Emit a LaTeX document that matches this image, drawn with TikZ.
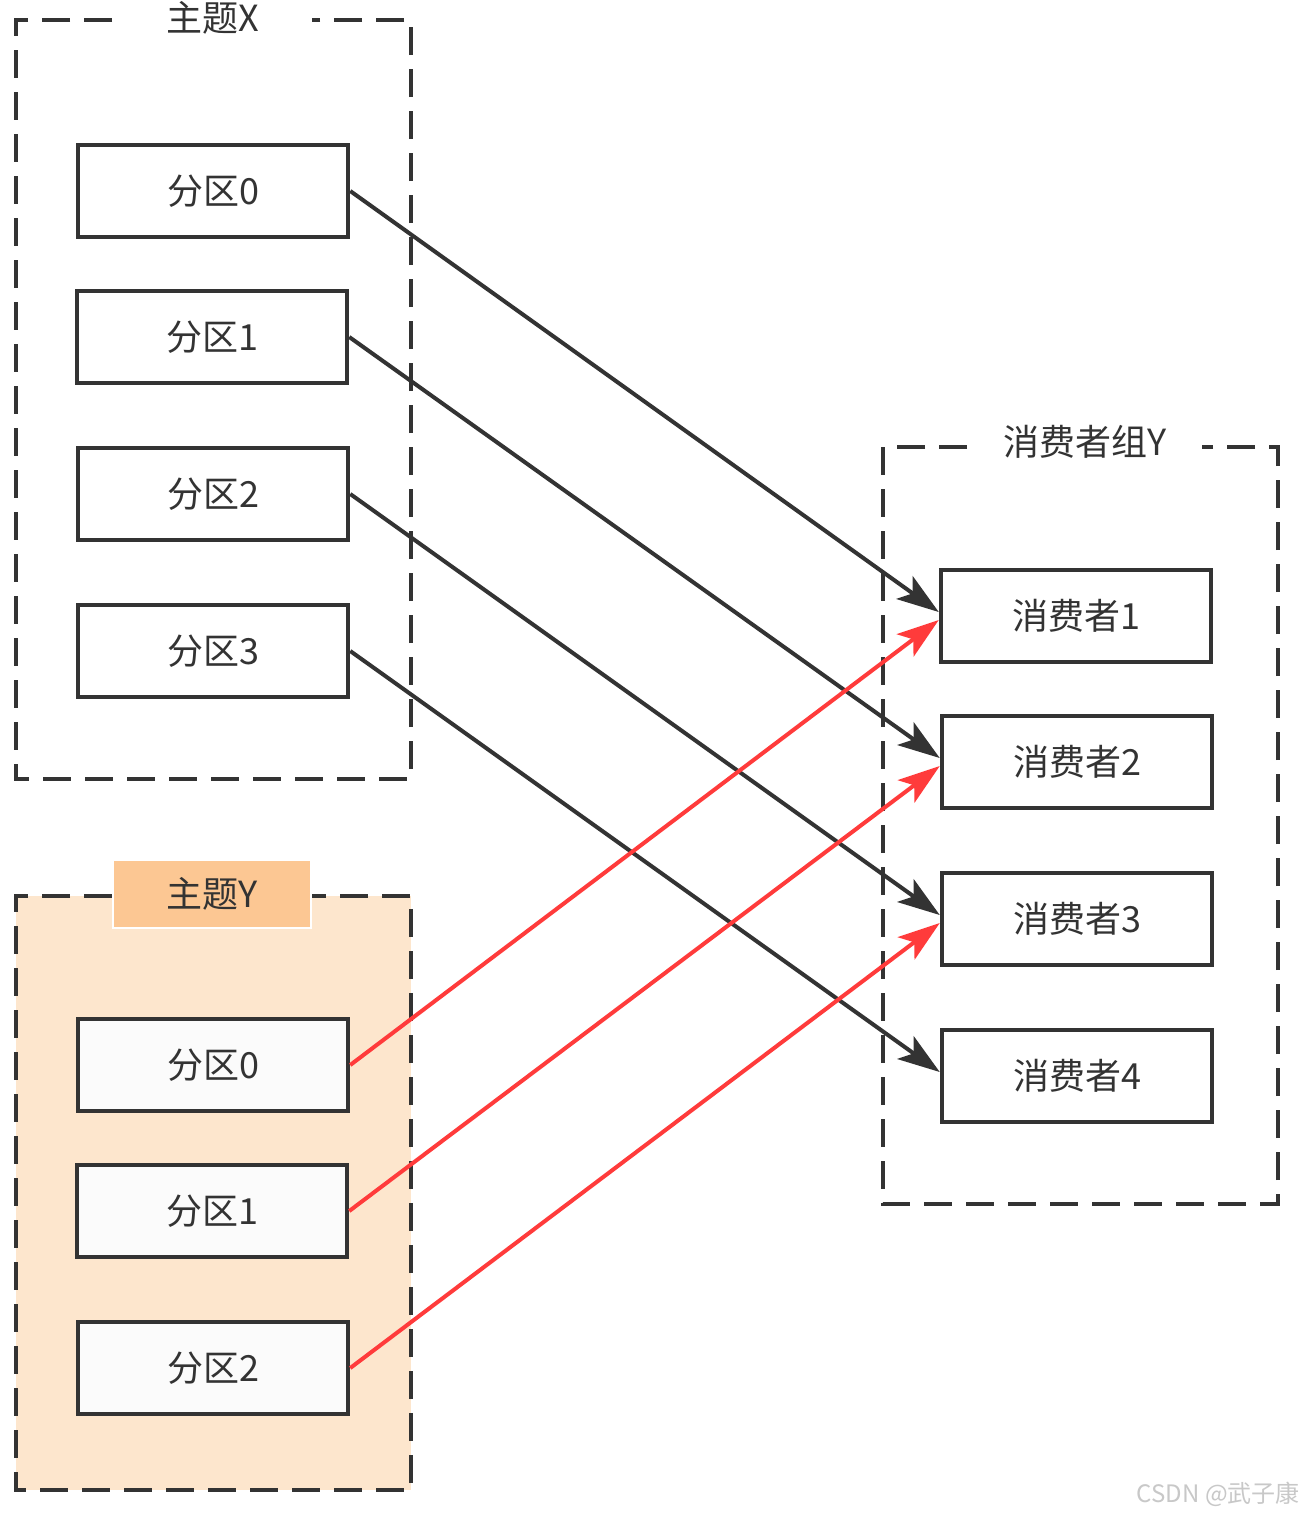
\documentclass[tikz,border=0pt]{standalone}
\usepackage{fontspec}
\setmainfont{Noto Sans CJK SC}
\usetikzlibrary{arrows.meta}
\definecolor{ink}{HTML}{333333}
\definecolor{redline}{HTML}{FF3B3B}
\definecolor{peach}{HTML}{FDE6CD}
\definecolor{peachdark}{HTML}{FCC793}
\definecolor{boxy}{HTML}{FBFBFB}
\definecolor{wm}{HTML}{C8C8C8}
\begin{document}
\begin{tikzpicture}[x=1pt,y=-1pt,
  box/.style={draw=ink, line width=4.5pt, fill=white, minimum width=270pt, minimum height=92pt, inner sep=0pt, text=ink, font=\fontsize{36}{42}\selectfont},
  grp/.style={draw=ink, line width=4pt, dash pattern=on 28pt off 14pt},
  title/.style={text=ink, inner sep=0pt, font=\fontsize{36}{42}\selectfont},
  blk/.style={draw=ink, line width=4pt, -{Stealth[length=42pt,width=28pt,inset=10pt]}},
  rd/.style={draw=redline, line width=4pt, -{Stealth[length=42pt,width=28pt,inset=10pt]}}
]
\useasboundingbox (0,0) rectangle (1304,1516);
\fill[white] (0,0) rectangle (1304,1516);

% Topic X
\draw[grp] (112,20) -- (16,20) -- (16,779) -- (411,779) -- (411,20) -- (312,20);
\node[title] (tx) at (213,18) {主题X};
\node[box] (x0) at (213,191) {分区0};
\node[box] (x1) at (212,337) {分区1};
\node[box] (x2) at (213,494) {分区2};
\node[box] (x3) at (213,651) {分区3};

% Topic Y
\fill[peach] (16,896) rectangle (411,1490);
\draw[grp] (112,896) -- (16,896) -- (16,1490) -- (411,1490) -- (411,896) -- (312,896);
\node[title, fill=peachdark, draw=white, line width=2pt, minimum width=198pt, minimum height=68pt] (ty) at (212,894) {主题Y};
\node[box, fill=boxy] (y0) at (213,1065) {分区0};
\node[box, fill=boxy] (y1) at (212,1211) {分区1};
\node[box, fill=boxy] (y2) at (213,1368) {分区2};

% Consumer group
\draw[grp] (967,447) -- (883,447) -- (883,1204) -- (1278,1204) -- (1278,447) -- (1202,447);
\node[title] (cg) at (1085,442) {消费者组Y};
\node[box] (c1) at (1076,616) {消费者1};
\node[box] (c2) at (1077,762) {消费者2};
\node[box] (c3) at (1077,919) {消费者3};
\node[box] (c4) at (1077,1076) {消费者4};

% Arrows
\draw[blk] (x0.east) -- ([yshift=4pt]c1.west);
\draw[blk] (x1.east) -- ([yshift=4pt]c2.west);
\draw[blk] (x2.east) -- ([yshift=4pt]c3.west);
\draw[blk] (x3.east) -- ([yshift=4pt]c4.west);
\draw[rd] (y0.east) -- ([yshift=-4pt]c1.west);
\draw[rd] (y1.east) -- ([yshift=-4pt]c2.west);
\draw[rd] (y2.east) -- ([yshift=-4pt]c3.west);

% Watermark
\node[text=wm, inner sep=0pt, anchor=east, font=\fontsize{24}{28}\selectfont] (wmk) at (1300,1494) {CSDN @武子康};
\end{tikzpicture}
\end{document}
